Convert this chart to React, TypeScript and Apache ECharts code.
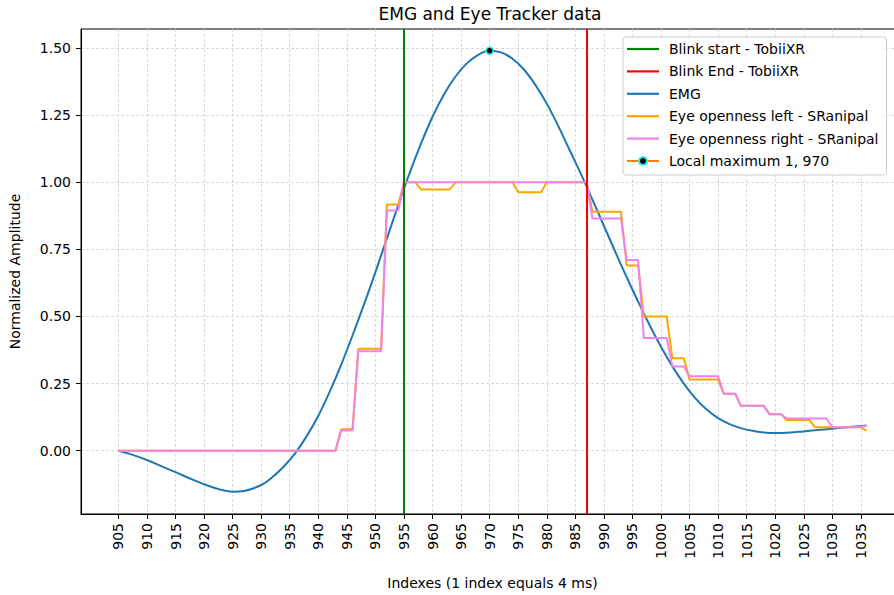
import React, { useEffect, useRef } from 'react';
import * as echarts from 'echarts';

const xTicks = [905, 910, 915, 920, 925, 930, 935, 940, 945, 950, 955, 960, 965, 970, 975, 980, 985, 990, 995, 1000, 1005, 1010, 1015, 1020, 1025, 1030, 1035];
const yTicks = [0, 0.25, 0.5, 0.75, 1.0, 1.25, 1.5];

const blinkStart = 955;
const blinkEnd = 987;
const localMax: [number, number] = [970, 1.49];

const emgIndex = [905, 907, 910, 913, 915, 918, 920, 923, 925, 927, 930, 932, 934, 936, 938, 940, 942, 944, 946, 948, 950, 952, 954, 956, 958, 960, 962, 964, 966, 968, 970, 972, 974, 976, 978, 980, 982, 984, 986, 988, 990, 992, 994, 996, 998, 1000, 1002, 1004, 1006, 1008, 1010, 1012, 1014, 1016, 1018, 1020, 1022, 1024, 1026, 1028, 1030, 1032, 1034, 1036];
const emgValues = [0, -0.012, -0.035, -0.062, -0.08, -0.108, -0.125, -0.146, -0.153, -0.15, -0.128, -0.098, -0.058, -0.008, 0.055, 0.13, 0.22, 0.32, 0.43, 0.545, 0.665, 0.79, 0.915, 1.035, 1.145, 1.244, 1.327, 1.393, 1.443, 1.475, 1.49, 1.484, 1.46, 1.42, 1.363, 1.293, 1.21, 1.12, 1.03, 0.935, 0.838, 0.741, 0.646, 0.555, 0.468, 0.387, 0.314, 0.25, 0.196, 0.153, 0.121, 0.099, 0.084, 0.074, 0.068, 0.066, 0.067, 0.07, 0.074, 0.078, 0.082, 0.086, 0.09, 0.094];

// Eye openness: [index, value] at the corners of each flat run
const leftEye: [number, number][] = [
  [905, 0], [943, 0], [944, 0.08], [946, 0.08], [947, 0.38], [951, 0.38], [952, 0.917], [954, 0.917],
  [955, 1.0], [957, 1.0], [958, 0.973], [963, 0.973], [964, 1.0], [974, 1.0], [975, 0.963], [979, 0.963],
  [980, 1.0], [987, 1.0], [988, 0.89], [993, 0.89], [994, 0.69], [996, 0.69], [997, 0.5], [1001, 0.5],
  [1002, 0.344], [1004, 0.344], [1005, 0.265], [1010, 0.265], [1011, 0.212], [1013, 0.212], [1014, 0.167],
  [1018, 0.167], [1019, 0.136], [1021, 0.136], [1022, 0.114], [1026, 0.114], [1027, 0.087], [1035, 0.087], [1036, 0.075],
];
const rightEye: [number, number][] = [
  [905, 0], [943, 0], [944, 0.075], [946, 0.075], [947, 0.37], [951, 0.37], [952, 0.895], [954, 0.895],
  [955, 1.0], [987, 1.0], [988, 0.865], [993, 0.865], [994, 0.71], [996, 0.71], [997, 0.42], [1001, 0.42],
  [1002, 0.314], [1004, 0.314], [1005, 0.277], [1010, 0.277], [1011, 0.212], [1013, 0.212], [1014, 0.167],
  [1018, 0.167], [1019, 0.136], [1021, 0.136], [1022, 0.12], [1029, 0.12], [1030, 0.087], [1034, 0.087], [1036, 0.093],
];

const FONT = '"DejaVu Sans", sans-serif';
const LINE_ICON = 'path://M0,0H32V2.2H0Z';

export default function App() {
  const ref = useRef<HTMLDivElement>(null);
  useEffect(() => {
    if (!ref.current) return;
    const chart = echarts.init(ref.current, undefined, { renderer: 'svg' });
    const emgData = emgIndex.map((x, i) => [x, emgValues[i]]);
    const splitLine = { show: true, lineStyle: { color: '#cfcfcf', width: 0.8, type: [3, 2] } };
    const axisLine = { show: true, onZero: false, lineStyle: { color: '#000', width: 1 } };
    chart.setOption({
      animation: false,
      backgroundColor: '#ffffff',
      textStyle: { fontFamily: FONT },
      graphic: [
        {
          type: 'text', x: 490, y: 14, z: 10,
          style: { text: 'EMG and Eye Tracker data', fill: '#000', font: `17px ${FONT}`, align: 'center', verticalAlign: 'middle' },
        },
      ],
      grid: { left: 77, top: 29, right: 6, bottom: 74, show: true, borderColor: '#000', borderWidth: 1, backgroundColor: 'transparent' },
      legend: {
        orient: 'vertical', left: 623, top: 37,
        backgroundColor: 'rgba(255,255,255,0.85)', borderColor: '#cccccc', borderWidth: 1, borderRadius: 3,
        padding: [5, 8, 7, 3], itemWidth: 32, itemHeight: 10, itemGap: 8.4,
        textStyle: { fontFamily: FONT, fontSize: 14, color: '#000', padding: [0, 0, 0, 5] },
        data: [
          { name: 'Blink start - TobiiXR', icon: LINE_ICON },
          { name: 'Blink End - TobiiXR', icon: LINE_ICON },
          { name: 'EMG', icon: LINE_ICON },
          { name: 'Eye openness left - SRanipal', icon: LINE_ICON },
          { name: 'Eye openness right - SRanipal', icon: LINE_ICON },
          { name: 'Local maximum 1, 970' },
        ],
      },
      xAxis: {
        type: 'value', min: 898.45, max: 1042.55,
        name: 'Indexes (1 index equals 4 ms)', nameLocation: 'middle', nameGap: 62,
        nameTextStyle: { fontFamily: FONT, fontSize: 14, color: '#000' },
        axisLine,
        axisTick: { show: true, length: 5, lineStyle: { color: '#000' }, customValues: xTicks },
        axisLabel: { rotate: 90, margin: 9, fontFamily: FONT, fontSize: 14, color: '#000', customValues: xTicks, formatter: (v: number) => String(v) },
        splitLine,
      },
      yAxis: {
        type: 'value', min: -0.236, max: 1.571,
        name: 'Normalized Amplitude', nameLocation: 'middle', nameGap: 59, nameRotate: 90,
        nameTextStyle: { fontFamily: FONT, fontSize: 14, color: '#000' },
        axisLine,
        axisTick: { show: true, length: 5, lineStyle: { color: '#000' }, customValues: yTicks },
        axisLabel: { margin: 10, fontFamily: FONT, fontSize: 14, color: '#000', customValues: yTicks, formatter: (v: number) => v.toFixed(2) },
        splitLine,
      },
      series: [
        {
          name: 'Blink start - TobiiXR', type: 'line', data: [], symbol: 'none', color: '#008000',
          lineStyle: { color: '#008000', width: 2 },
          markLine: { symbol: 'none', silent: true, label: { show: false }, lineStyle: { color: '#008000', width: 2, type: 'solid' }, data: [{ xAxis: blinkStart }] },
        },
        {
          name: 'Blink End - TobiiXR', type: 'line', data: [], symbol: 'none', color: '#ff0000',
          lineStyle: { color: '#ff0000', width: 2 },
          markLine: { symbol: 'none', silent: true, label: { show: false }, lineStyle: { color: '#ff0000', width: 2, type: 'solid' }, data: [{ xAxis: blinkEnd }] },
        },
        {
          name: 'EMG', type: 'line', data: emgData, symbol: 'none', smooth: 0.4, color: '#1f77b4',
          lineStyle: { color: '#1f77b4', width: 2 },
        },
        {
          name: 'Eye openness left - SRanipal', type: 'line', data: leftEye, symbol: 'none', color: '#ffa500',
          lineStyle: { color: '#ffa500', width: 2 },
        },
        {
          name: 'Eye openness right - SRanipal', type: 'line', data: rightEye, symbol: 'none', color: '#ee82ee',
          lineStyle: { color: '#ee82ee', width: 2 },
        },
        {
          name: 'Local maximum 1, 970', type: 'line', data: [localMax], symbol: 'circle', symbolSize: 7, color: '#ff7f0e',
          itemStyle: { color: '#000000', borderColor: '#2ee8e0', borderWidth: 1.5 },
          lineStyle: { color: '#ff7f0e', width: 2 }, z: 5,
        },
      ],
    });
    return () => chart.dispose();
  }, []);
  return (
    <div style={{ position: 'fixed', left: 0, top: 0, width: 894, height: 595, overflow: 'hidden', background: '#fff' }}>
      <div ref={ref} style={{ width: 910, height: 595 }} />
    </div>
  );
}
